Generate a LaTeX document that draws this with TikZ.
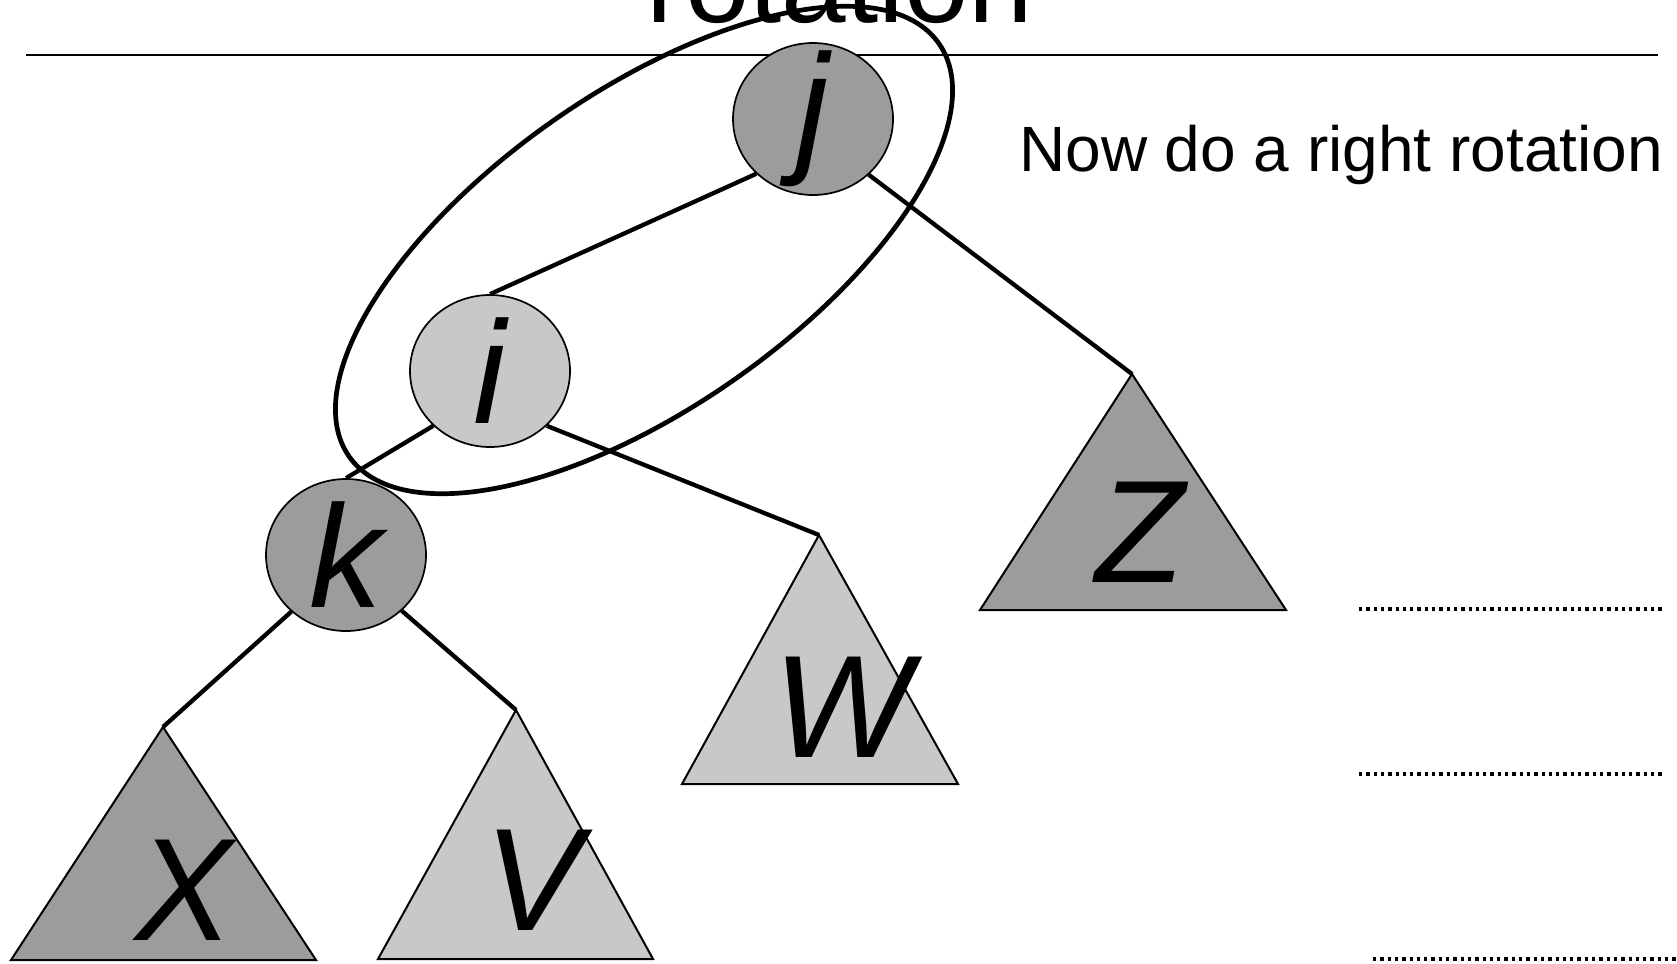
\documentclass[tikz,border=0pt]{standalone}
\usepackage{fontspec}
\setmainfont{Liberation Sans}
\usetikzlibrary{shapes.geometric}
\definecolor{darkfill}{HTML}{9C9C9C}
\definecolor{lightfill}{HTML}{C8C8C8}
\tikzset{
  treenode/.style={ellipse, draw=black, line width=1.7pt, minimum width=160pt, minimum height=152pt, inner sep=0pt},
  dark/.style={fill=darkfill},
  light/.style={fill=lightfill},
  letter/.style={font=\fontsize{146}{146}\selectfont\itshape, inner sep=0pt},
  edge/.style={line width=4.3pt},
  subtree/.style={draw=black, line width=2pt, line join=miter},
  dotline/.style={line width=3.3pt, dash pattern=on 3.3pt off 4pt},
}
\begin{document}
\begin{tikzpicture}[x=1pt, y=-1pt]
\useasboundingbox (0,0) rectangle (1677,963);

% heading and rule
\node[anchor=base, inner sep=0pt, font=\fontsize{116}{116}\selectfont] (title) at (840,23) {rotation};
\coordinate (ruleL) at (26,55);
\coordinate (ruleR) at (1658,55);
\draw[line width=1.5pt] (ruleL) -- (ruleR);

\node[anchor=base west, inner sep=0pt, font=\fontsize{64}{64}\selectfont] (note) at (1019,171) {Now do a right rotation};

% subtrees
\coordinate (X) at (163,727);
\coordinate (V) at (516,710);
\coordinate (W) at (819,535);
\coordinate (Z) at (1132,374);
\draw[subtree, dark]  (X) -- (316,960) -- (11,960) -- cycle;
\draw[subtree, light] (V) -- (653,959) -- (378,959) -- cycle;
\draw[subtree, light] (W) -- (958,784) -- (682,784) -- cycle;
\draw[subtree, dark]  (Z) -- (1286,610) -- (980,610) -- cycle;
\node[letter, anchor=base] (Xl) at (184,940) {X};
\node[letter, anchor=base] (Vl) at (533,930) {V};
\node[letter, anchor=base] (Wl) at (842,757) {W};
\node[letter, anchor=base] (Zl) at (1140,582) {Z};

% tree nodes
\node[treenode, dark]  (j) at (813,119) {};
\node[treenode, light] (i) at (490,371) {};
\node[treenode, dark]  (k) at (346,555) {};
\node[letter] (jl) at (j.center) {j};
\node[letter] (il) at (i.center) {i};
\node[letter] (kl) at (k.center) {k};

% connectors
\draw[edge] (j.224) -- (i.north);
\draw[edge] (j.-45) -- (Z);
\draw[edge] (i.224) -- (k.north);
\draw[edge] (i.-44) -- (W);
\draw[edge] (k.226) -- (X);
\draw[edge] (k.-45) -- (V);

% grouping ellipse around j and i
\coordinate (grp) at (644,250);
\draw[line width=4.7pt, rotate around={35:(grp)}] (grp) ellipse [x radius=360pt, y radius=158pt];

% answer lines
\coordinate (a1) at (1359,609);
\coordinate (a1e) at (1663,609);
\coordinate (a2) at (1359,774);
\coordinate (a2e) at (1663,774);
\coordinate (a3) at (1373,959);
\coordinate (a3e) at (1677,959);
\draw[dotline] (a1) -- (a1e);
\draw[dotline] (a2) -- (a2e);
\draw[dotline] (a3) -- (a3e);
\end{tikzpicture}
\end{document}
